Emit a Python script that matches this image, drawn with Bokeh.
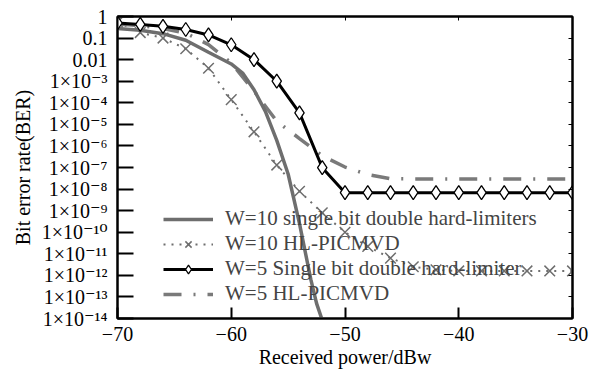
from bokeh.plotting import figure
from bokeh.models import (LogAxis, LinearAxis, FixedTicker, Legend, LegendItem, Range1d,
                          CustomJSTickFormatter)
from bokeh.embed import file_html
from bokeh.resources import INLINE

# ---- data ----
power_w10_single = [-70, -68, -66, -64, -62, -60, -59, -58, -57, -56, -55, -54, -53, -52.5, -52.05]
ber_w10_single = [0.28, 0.23, 0.16, 0.079, 0.022, 6.3e-3, 2.4e-3, 4.0e-4, 4.0e-5, 1.8e-6,
                  5.0e-8, 2.5e-10, 6.3e-13, 5.0e-14, 1.0e-14]

power_step = [-70, -68, -66, -64, -62, -60, -58, -56, -54, -52, -50,
              -48, -46, -44, -42, -40, -38, -36, -34, -32, -30]
ber_w10_hl = [0.56, 0.18, 0.10, 0.032, 4.0e-3, 1.4e-4, 4.5e-6, 1.3e-7, 7.9e-9, 7.9e-10, 1.0e-10,
              2.2e-11, 6.3e-12, 2.5e-12, 1.8e-12, 1.6e-12, 1.6e-12, 1.6e-12, 1.6e-12, 1.6e-12, 1.6e-12]
ber_w5_single = [0.50, 0.43, 0.35, 0.25, 0.14, 0.049, 0.010, 1.0e-3, 3.4e-5, 9.8e-8, 6.8e-9,
                 6.8e-9, 6.8e-9, 6.8e-9, 6.8e-9, 6.8e-9, 6.8e-9, 6.8e-9, 6.8e-9, 6.8e-9, 6.8e-9]
ber_w5_hl = [0.45, 0.38, 0.28, 0.17, 0.050, 7.1e-3, 3.5e-4, 1.4e-5, 2.2e-6, 3.5e-7, 1.05e-7,
             4.7e-8, 3.0e-8, 2.95e-8, 2.95e-8, 2.95e-8, 2.95e-8, 2.95e-8, 2.95e-8, 2.95e-8, 2.95e-8]

series_labels = ["W=10 single bit double hard-limiters",
                 "W=10 HL-PICMVD",
                 "W=5 Single bit double hard-limiter",
                 "W=5 HL-PICMVD"]

x_title = "Received power/dBw"
y_title = "Bit error rate(BER)"
xtick_values = [-70, -60, -50, -40, -30]
xtick_labels = ["\u221270", "\u221260", "\u221250", "\u221240", "\u221230"]
ytick_values = [1, 0.1, 0.01, 1e-3, 1e-4, 1e-5, 1e-6, 1e-7, 1e-8, 1e-9, 1e-10, 1e-11, 1e-12, 1e-13, 1e-14]
ytick_labels = ["1", "0.1", "0.01", "1\u00d710\u207b\u00b3", "1\u00d710\u207b\u2074", "1\u00d710\u207b\u2075",
                "1\u00d710\u207b\u2076", "1\u00d710\u207b\u2077", "1\u00d710\u207b\u2078", "1\u00d710\u207b\u2079",
                "1\u00d710\u207b\u00b9\u2070", "1\u00d710\u207b\u00b9\u00b9", "1\u00d710\u207b\u00b9\u00b2",
                "1\u00d710\u207b\u00b9\u00b3", "1\u00d710\u207b\u00b9\u2074"]

FONT = "Liberation Serif, DejaVu Serif"
GRAY = "#6e6e6e"

p = figure(width=594, height=370, x_range=Range1d(-70, -30), y_range=Range1d(1e-14, 1),
           y_axis_type="log", output_backend="svg", toolbar_location=None,
           min_border_left=117, min_border_right=22, min_border_top=16, min_border_bottom=51)
p.grid.visible = False
p.outline_line_color = "black"
p.outline_line_width = 2
p.background_fill_color = "white"
p.border_fill_color = "white"

# ---- series ----
r_w5hl = p.line(power_step, ber_w5_hl, line_color="#7a7a7a", line_width=3.5, line_dash="18 12 2 12")
r_w10hl_l = p.line(power_step, ber_w10_hl, line_color=GRAY, line_width=2, line_dash="2 6")
r_w10hl_m = p.scatter(power_step, ber_w10_hl, marker="x", size=15, line_color=GRAY, line_width=1.5)
r_w10s = p.line(power_w10_single, ber_w10_single, line_color=GRAY, line_width=3.5)
r_w5s_l = p.line(power_step, ber_w5_single, line_color="black", line_width=3)
r_w5s_m = p.scatter(power_step, ber_w5_single, marker="diamond", size=14, line_color="black",
                    line_width=1.3, fill_color="white")

# ---- axes ----
xa = p.xaxis[0]
xa.ticker = FixedTicker(ticks=xtick_values)
xa.major_label_overrides = dict(zip(xtick_values, xtick_labels))
xa.axis_label = x_title
ya = p.yaxis[0]
ya.ticker = FixedTicker(ticks=ytick_values)
ya.major_label_overrides = dict(zip(ytick_values, ytick_labels))
ya.axis_label = y_title
for ax in (xa, ya):
    ax.axis_line_width = 2
    ax.major_tick_line_width = 2
    ax.major_tick_out = 0
    ax.minor_tick_in = 0
    ax.minor_tick_out = 0
    ax.major_label_text_font = FONT
    ax.major_label_text_font_size = "20px"
    ax.major_label_text_color = "black"
    ax.axis_label_text_font = FONT
    ax.axis_label_text_font_size = "20px"
    ax.axis_label_text_font_style = "normal"
    ax.axis_label_text_color = "black"
xa.major_tick_in = 11
xa.major_label_standoff = 8
xa.major_label_text_line_height = 1.0
xa.axis_label_text_line_height = 1.0
xa.axis_label_standoff = 2
ya.major_tick_in = 16
ya.major_label_standoff = 10
ya.axis_label_standoff = 5

blank = CustomJSTickFormatter(code="return '';")
ra = LogAxis(ticker=FixedTicker(ticks=ytick_values), formatter=blank, major_tick_in=4, major_tick_out=0,
             minor_tick_in=0, minor_tick_out=0, major_label_text_font_size="1px",
             major_label_standoff=0, axis_line_width=2, major_tick_line_width=1)
p.add_layout(ra, "right")
ta = LinearAxis(ticker=FixedTicker(ticks=[-60, -50, -40]), formatter=blank, major_tick_in=4,
                major_tick_out=0, minor_tick_in=0, minor_tick_out=0, major_label_text_font_size="1px",
                major_label_standoff=0, axis_line_width=2, major_tick_line_width=1)
p.add_layout(ta, "above")

# ---- legend ----
legend = Legend(items=[
    LegendItem(label=series_labels[0], renderers=[r_w10s]),
    LegendItem(label=series_labels[1], renderers=[r_w10hl_l, r_w10hl_m]),
    LegendItem(label=series_labels[2], renderers=[r_w5s_l, r_w5s_m]),
    LegendItem(label=series_labels[3], renderers=[r_w5hl]),
], location=(46, 12), padding=0, margin=0, spacing=0, glyph_width=50, glyph_height=22,
    label_height=22, label_standoff=12, label_text_font=FONT, label_text_font_size="21px",
    label_text_line_height=1.0, background_fill_alpha=0, border_line_alpha=0)
p.add_layout(legend, "center")

open("out.html", "w").write(file_html(p, INLINE))
